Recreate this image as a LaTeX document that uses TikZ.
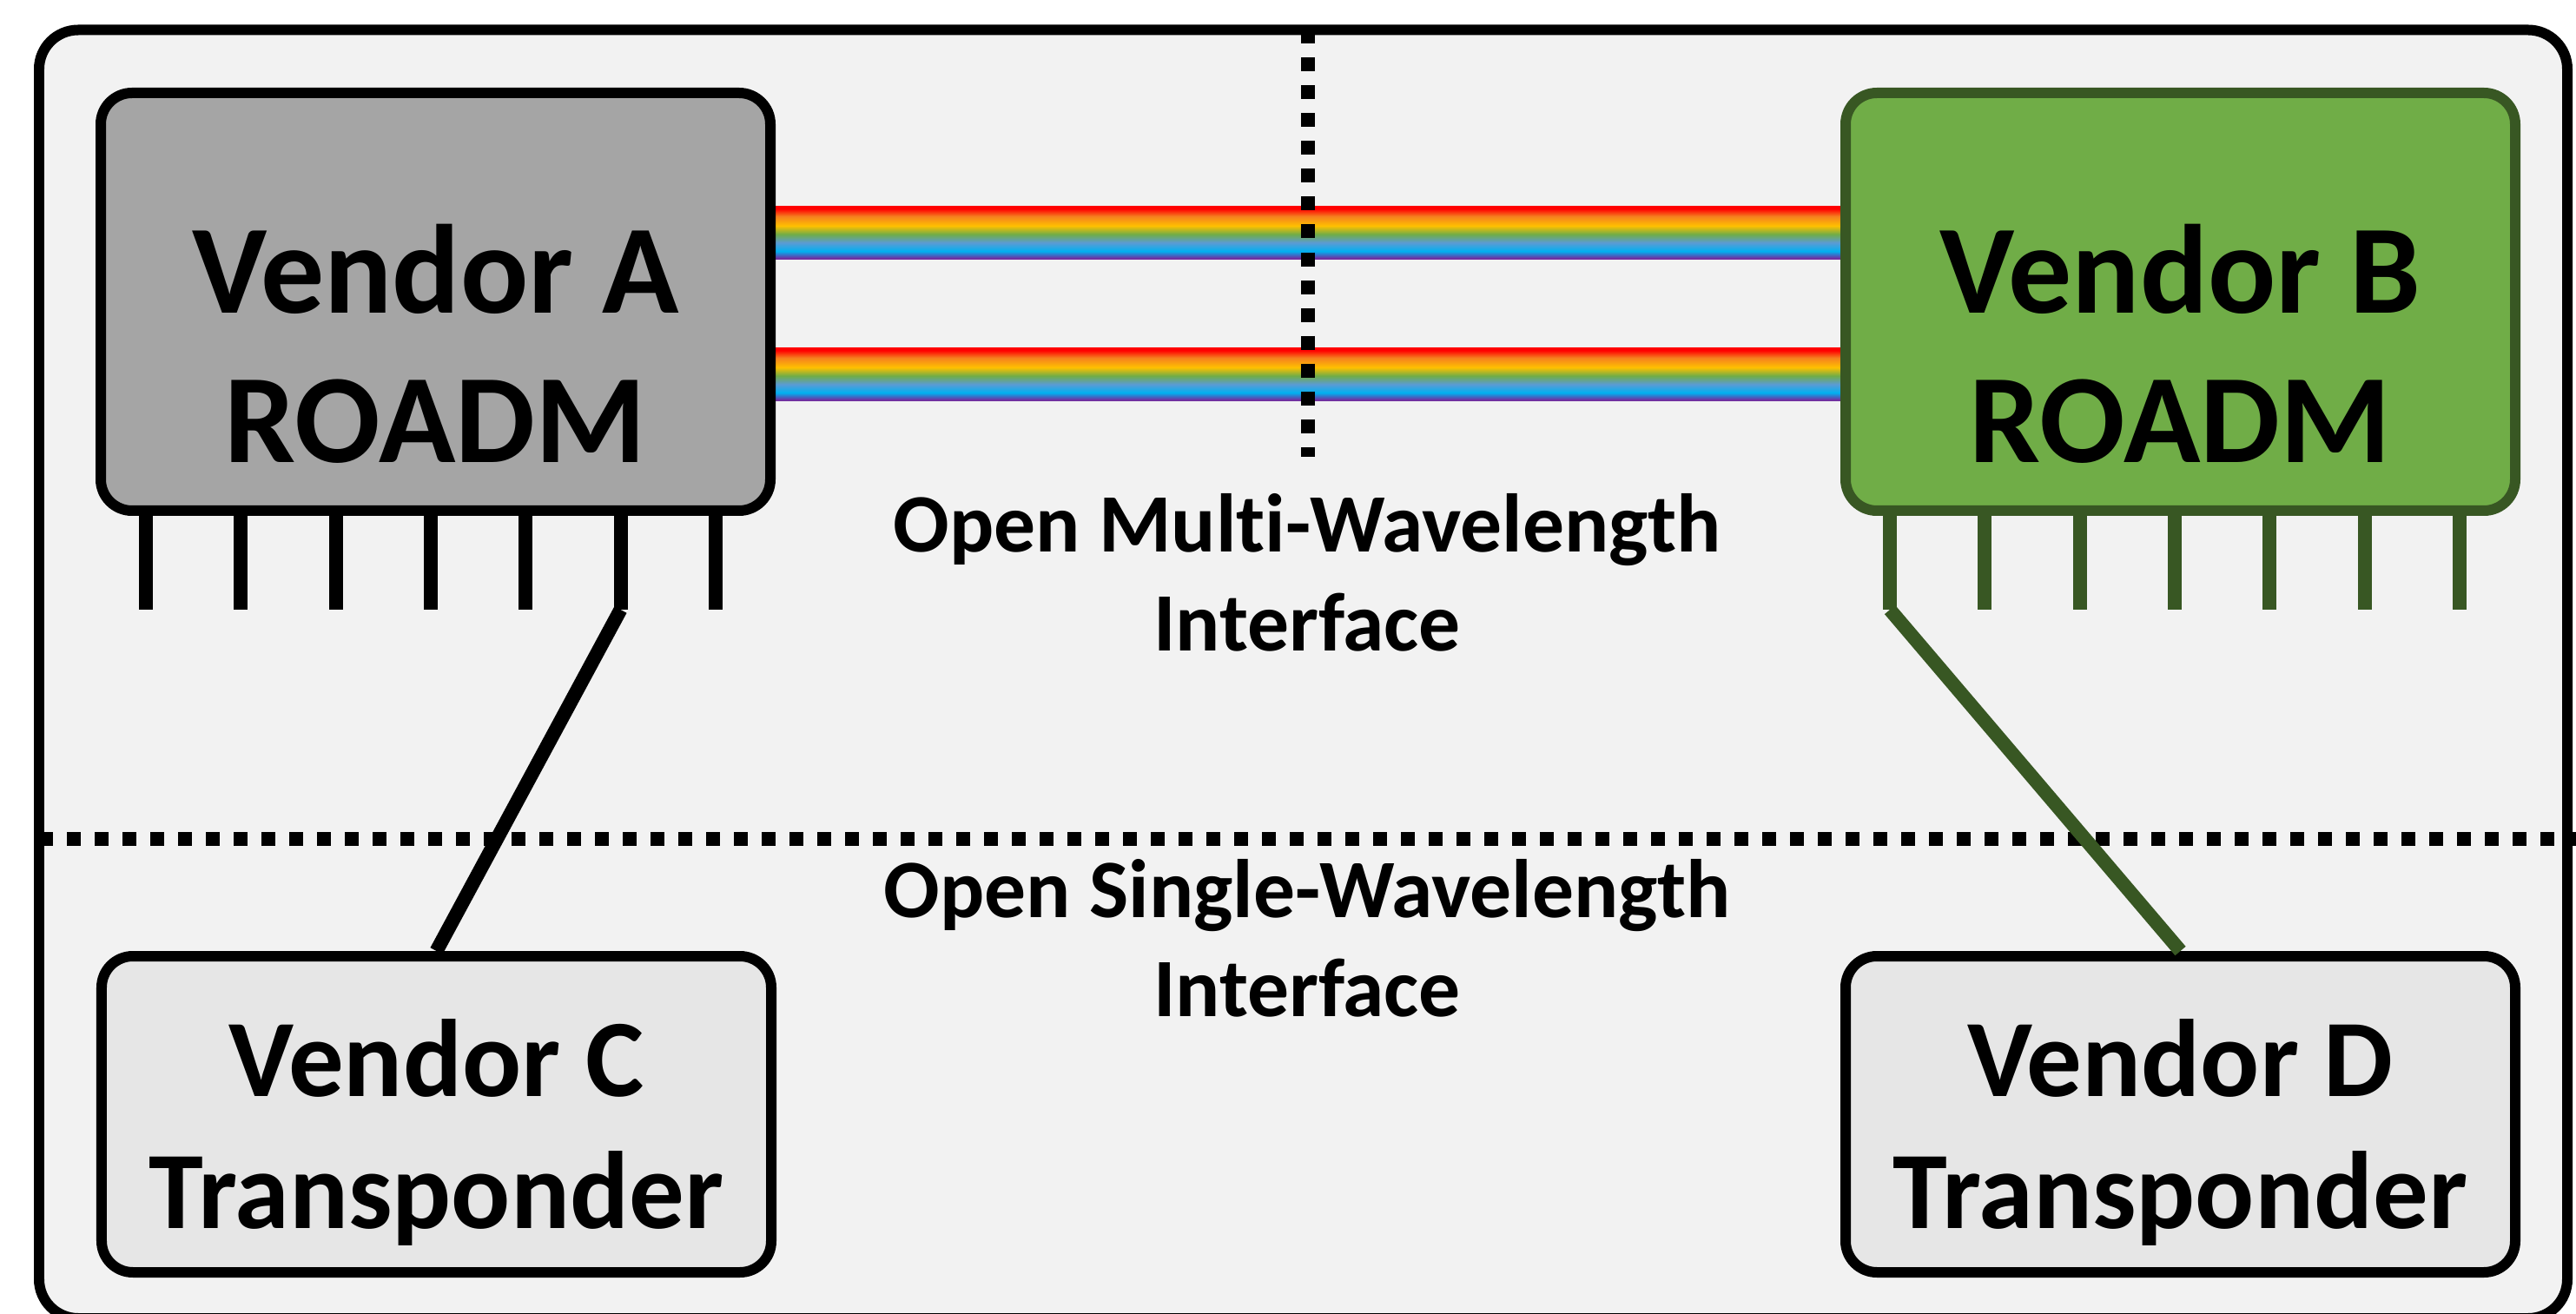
\documentclass[tikz,border=0pt]{standalone}
\usepackage{fontspec}
\setmainfont{Carlito}[Ligatures=NoCommon]
\usetikzlibrary{backgrounds}

\definecolor{panelbg}{HTML}{F2F2F2}
\definecolor{roadmgray}{HTML}{A5A5A5}
\definecolor{roadmgreen}{HTML}{70AD47}
\definecolor{darkgreen}{HTML}{385723}
\definecolor{txpgray}{HTML}{E6E6E6}
% rainbow colours
\definecolor{rbRed}{HTML}{FF0000}
\definecolor{rbOrange}{HTML}{F57F1F}
\definecolor{rbYellow}{HTML}{FFC000}
\definecolor{rbGreen}{HTML}{70AD47}
\definecolor{rbSteel}{HTML}{5B9BD5}
\definecolor{rbCyan}{HTML}{00B0F0}
\definecolor{rbPurple}{HTML}{7030A0}
\pgfdeclareverticalshading{rainbowband}{100bp}{color(0bp)=(rbPurple); color(25bp)=(rbPurple);
  color(26.5bp)=(rbPurple); color(33bp)=(rbCyan); color(41bp)=(rbSteel); color(49bp)=(rbGreen);
  color(57bp)=(rbYellow); color(66bp)=(rbOrange); color(73bp)=(rbRed); color(75bp)=(rbRed); color(100bp)=(rbRed)}

\tikzset{
  box/.style={draw=black, line width=0.12cm, rounded corners=0.36cm, minimum width=7.71cm, inner sep=0pt},
  roadm/.style={box, minimum height=4.81cm},
  txp/.style={box, fill=txpgray, minimum height=3.64cm},
  pin/.style={line width=0.16cm},
  link/.style={line width=0.16cm},
  divider/.style={line width=0.16cm, dash pattern=on 0.16cm off 0.16cm},
  bigtext/.style={font=\bfseries\fontsize{41.5}{48.9}\selectfont, align=center, inner sep=0pt},
  midtext/.style={font=\bfseries\fontsize{36.1}{43.5}\selectfont, align=center, inner sep=0pt},
  smalltext/.style={font=\bfseries\fontsize{27.2}{32.4}\selectfont, align=center, inner sep=0pt}
}

\begin{document}
\begin{tikzpicture}
	\useasboundingbox (0,0) rectangle (29.66,-15.13);
	
	% boxes
	\node[roadm, fill=roadmgray] (roadmA) at (5.015,-3.475) {};
	\node[roadm, fill=roadmgreen, draw=darkgreen] (roadmB) at (25.105,-3.475) {};
	\node[txp] (txpC) at (5.025,-12.83) {};
	\node[txp] (txpD) at (25.105,-12.83) {};
	
	% panel, fibres and dividers
	\begin{scope}[on background layer]
		\draw[line width=0.12cm, rounded corners=0.45cm, fill=panelbg] (0.45,-0.345) rectangle (29.56,-15.18);
		\shade[shading=rainbowband] ([yshift=1.095cm]roadmA.east) rectangle ([yshift=0.485cm]roadmB.west);
		\shade[shading=rainbowband] ([yshift=-0.535cm]roadmA.east) rectangle ([yshift=-1.145cm]roadmB.west);
		\draw[divider] (15.06,-0.345) -- (15.06,-5.26);
		\draw[divider] (0.45,-9.66) -- (29.66,-9.66);
	\end{scope}
	
	% pins
	\foreach \i in {0,...,6} {
		\draw[pin] ([xshift={0.58cm+\i*1.093cm}]roadmA.south west) -- ++(0,-1.08) coordinate (pinA\i);
		\draw[pin, darkgreen] ([xshift={0.57cm+\i*1.093cm}]roadmB.south west) -- ++(0,-1.08) coordinate (pinB\i);
	}
	
	% links
	\draw[link] (pinA5) -- (txpC.north);
	\draw[link, darkgreen] (pinB0) -- (txpD.north);
	
	% labels
	\node[bigtext] (labelA) at ([yshift=-0.48cm]roadmA.center) {Vendor A\\ROADM};
	\node[bigtext] (labelB) at ([yshift=-0.48cm]roadmB.center) {Vendor B\\ROADM};
	\node[midtext] (labelC) at ([yshift=-0.21cm]txpC.center) {Vendor C\\Transponder};
	\node[midtext] (labelD) at ([yshift=-0.21cm]txpD.center) {Vendor D\\Transponder};
	\node[smalltext] (multiIf) at (15.05,-6.59) {Open Multi-Wavelength\\Interface};
	\node[smalltext] (singleIf) at (15.05,-10.80) {Open Single-Wavelength\\Interface};
\end{tikzpicture}
\end{document}
